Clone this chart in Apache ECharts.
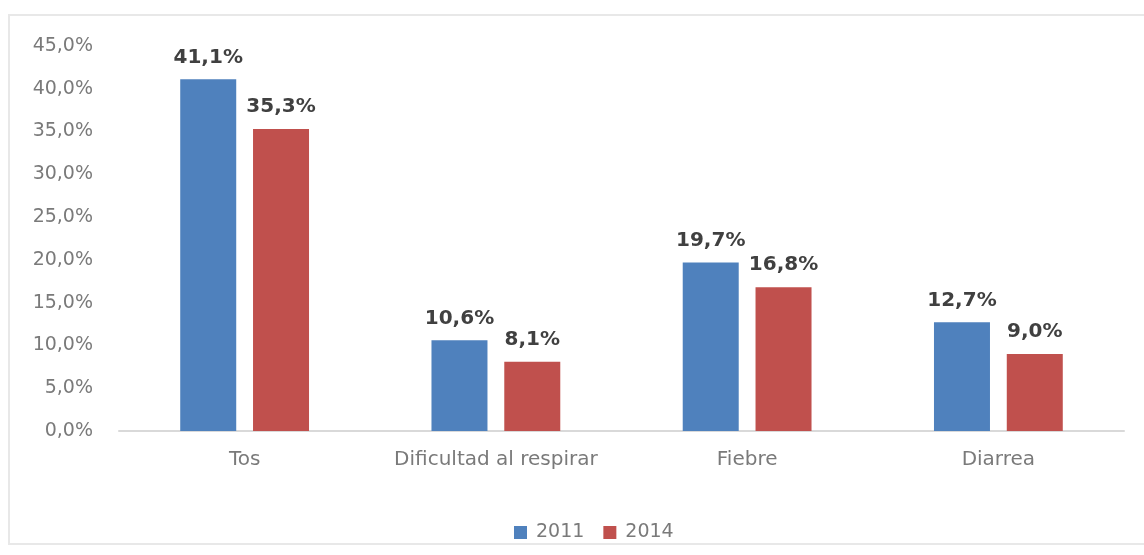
<!DOCTYPE html>
<html>
<head>
<meta charset="utf-8">
<script src="https://cdn.jsdelivr.net/npm/echarts@6/dist/echarts.min.js"></script>
<style>
  html, body { margin: 0; padding: 0; background: #ffffff; }
  #chart { width: 1144px; height: 555px; }
</style>
</head>
<body>
<div id="chart"></div>
<script>
// Symptom categories and yearly percentages
const categories = ['Tos', 'Dificultad al respirar', 'Fiebre', 'Diarrea'];
const values2011 = [41.1, 10.6, 19.7, 12.7];
const values2014 = [35.3, 8.1, 16.8, 9.0];
const seriesNames = ['2011', '2014'];

const fmt = v => Number(v).toFixed(1).replace('.', ',') + '%';
const FONT = 'DejaVu Sans';

const chart = echarts.init(document.getElementById('chart'), null, { renderer: 'canvas' });

const labelStyle = {
  show: true,
  position: 'top',
  distance: 12,
  fontFamily: FONT,
  fontSize: 20,
  fontWeight: 'bold',
  color: '#404040',
  formatter: p => fmt(p.value)
};

chart.setOption({
  animation: false,
  backgroundColor: '#ffffff',
  graphic: [{
    type: 'rect',
    shape: { x: 9, y: 15, width: 1150, height: 529 },
    style: { fill: 'none', stroke: '#e8e8e8', lineWidth: 2 },
    silent: true
  }],
  grid: { left: 119, right: 20, top: 46, bottom: 124 },
  legend: {
    data: seriesNames,
    left: 509,
    top: 518,
    itemWidth: 13,
    itemHeight: 13,
    itemGap: 19,
    icon: 'rect',
    textStyle: { fontFamily: FONT, fontSize: 19, color: '#7a7a7a', padding: [0, 0, 0, 4] }
  },
  xAxis: {
    type: 'category',
    data: categories,
    axisLine: { show: true, lineStyle: { color: '#d9d9d9', width: 2 } },
    axisTick: { show: false },
    axisLabel: { interval: 0, margin: 19, fontFamily: FONT, fontSize: 20, color: '#7a7a7a' }
  },
  yAxis: {
    type: 'value',
    min: 0,
    max: 45,
    interval: 5,
    axisLine: { show: false },
    axisTick: { show: false },
    splitLine: { show: false },
    axisLabel: {
      margin: 26,
      fontFamily: FONT,
      fontSize: 19,
      color: '#7a7a7a',
      formatter: v => fmt(v)
    }
  },
  series: [
    {
      name: seriesNames[0],
      type: 'bar',
      data: values2011,
      barWidth: 56,
      barGap: '30%',
      itemStyle: { color: '#4F81BD' },
      label: labelStyle
    },
    {
      name: seriesNames[1],
      type: 'bar',
      data: values2014,
      barWidth: 56,
      barGap: '30%',
      itemStyle: { color: '#C0504D' },
      label: labelStyle
    }
  ]
});
</script>
</body>
</html>
